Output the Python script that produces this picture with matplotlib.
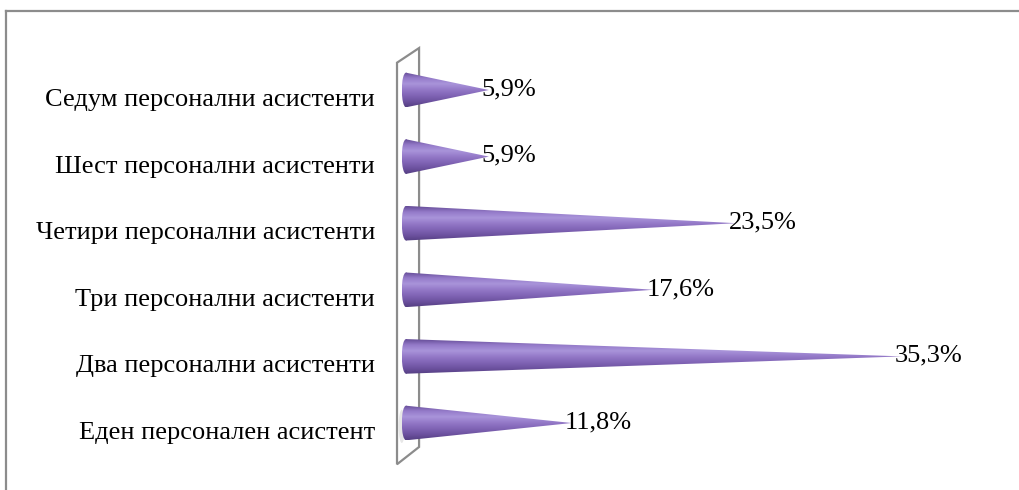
import numpy as np
import matplotlib.pyplot as plt
from matplotlib.patches import Polygon, Ellipse
from matplotlib.colors import LinearSegmentedColormap
from matplotlib.lines import Line2D

plt.rcParams['font.family'] = ['Liberation Serif', 'DejaVu Serif']

categories = ["Еден персонален асистент", "Два персонални асистенти",
              "Три персонални асистенти", "Четири персонални асистенти",
              "Шест персонални асистенти", "Седум персонални асистенти"]
values = [11.8, 35.3, 17.6, 23.5, 5.9, 5.9]
labels = ["11,8%", "35,3%", "17,6%", "23,5%", "5,9%", "5,9%"]

W, H = 1019, 490
fig = plt.figure(figsize=(W / 100, H / 100), dpi=100)
x0 = 406          # pixel of 0 %
ax_left = 380     # axes begins a bit left of 0 so the cone bases are not clipped
px_per_pct = 14.05
px_per_cat = 66.6
ax = fig.add_axes([ax_left / W, 0, 1 - ax_left / W, 1])
ax.axis('off')

# outer frame (only top and left are inside the picture)
fig.add_artist(Line2D([6 / W, 6 / W], [0, 1 - 11 / H], color='#8c8c8c', lw=1.6))
fig.add_artist(Line2D([6 / W, 1], [1 - 11 / H, 1 - 11 / H], color='#8c8c8c', lw=1.6))

# 3d wall behind the cones
n = len(categories)
wall = Polygon([(-0.64, -0.62), (-0.64, n - 1 + 0.41), (0.93, n - 1 + 0.63), (0.93, -0.36)],
               closed=True, facecolor='white', edgecolor='#8c8c8c', lw=1.6, zorder=1)
ax.add_patch(wall)

# soft shadow at the base of the lowest cone
ax.add_patch(Ellipse((-0.3, -0.05), 0.45, 0.5, facecolor='#a0a0a0', edgecolor='none',
                     alpha=0.25, zorder=1.5))

cmap = LinearSegmentedColormap.from_list('cone', ['#644b96', '#947ac9', '#a994da', '#9479c8',
                                                  '#8165b6', '#6d52a0', '#553f82'])
grad = np.linspace(0, 1, 128).reshape(-1, 1)
h = 0.26
ew = 0.3
bx = 0.0
for i, v in enumerate(values):
    poly = Polygon([(bx, i + h), (v, i), (bx, i - h)], closed=True,
                   facecolor='none', edgecolor='none')
    ax.add_patch(poly)
    im = ax.imshow(grad, cmap=cmap, aspect='auto', extent=(bx - ew, v, i - h, i + h),
                   origin='upper', zorder=3, interpolation='bilinear')
    im.set_clip_path(poly)
    base = Ellipse((bx, i), 2 * ew, 2 * h, facecolor='none', edgecolor='none', zorder=2.9)
    ax.add_patch(base)
    im2 = ax.imshow(grad, cmap=cmap, aspect='auto', extent=(bx - ew, bx + ew, i - h, i + h),
                    origin='upper', zorder=2.9, interpolation='bilinear')
    im2.set_clip_path(base)
    ax.text(v - 0.5, i + 0.01, labels[i], ha='left', va='center', fontsize=19, zorder=5)
    ax.text(-2.2, i - 0.15, categories[i], ha='right', va='center', fontsize=19,
            clip_on=False)

ax.set_xlim(-(x0 - ax_left) / px_per_pct, (W - x0) / px_per_pct)
ax.set_ylim(-67 / px_per_cat, 5 + 90 / px_per_cat)
fig.savefig('out.png', dpi=100)
